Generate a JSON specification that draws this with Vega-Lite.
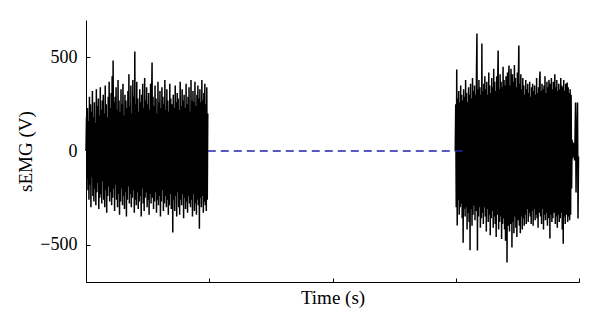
{
"$schema": "https://vega.github.io/schema/vega-lite/v6.json",
"width": 493, "height": 262,
"autosize": {"type": "none"},
"padding": {"left": 86, "top": 20, "right": 21, "bottom": 47},
"config": {"view": {"stroke": null}, "font": "Liberation Serif",
 "axis": {"grid": false, "domainColor": "black", "tickColor": "black", "labelColor": "black", "titleColor": "black", "domainWidth": 1, "tickWidth": 1, "labelFontSize": 18, "titleFontSize": 19, "titleFontWeight": "normal", "labelFont": "Liberation Serif", "titleFont": "Liberation Serif"}},
"datasets": {
"emg": [
{"b":1,"t":0,"v":0},{"b":1,"t":1,"v":180},{"b":1,"t":2,"v":-150},{"b":1,"t":3,"v":230},{"b":1,"t":4,"v":-210},{"b":1,"t":5,"v":160},{"b":1,"t":6,"v":-260},{"b":1,"t":7,"v":290},{"b":1,"t":8,"v":-180},{"b":1,"t":9,"v":250},
{"b":1,"t":10,"v":-300},{"b":1,"t":11,"v":210},{"b":1,"t":12,"v":-140},{"b":1,"t":13,"v":320},{"b":1,"t":14,"v":-240},{"b":1,"t":15,"v":180},{"b":1,"t":16,"v":-270},{"b":1,"t":17,"v":260},{"b":1,"t":18,"v":-200},{"b":1,"t":19,"v":150},
{"b":1,"t":20,"v":-290},{"b":1,"t":21,"v":330},{"b":1,"t":22,"v":-220},{"b":1,"t":23,"v":240},{"b":1,"t":24,"v":-170},{"b":1,"t":25,"v":280},{"b":1,"t":26,"v":-310},{"b":1,"t":27,"v":190},{"b":1,"t":28,"v":-250},{"b":1,"t":29,"v":340},
{"b":1,"t":30,"v":-230},{"b":1,"t":31,"v":220},{"b":1,"t":32,"v":-280},{"b":1,"t":33,"v":270},{"b":1,"t":34,"v":-160},{"b":1,"t":35,"v":300},{"b":1,"t":36,"v":-260},{"b":1,"t":37,"v":200},{"b":1,"t":38,"v":-300},{"b":1,"t":39,"v":350},
{"b":1,"t":40,"v":-210},{"b":1,"t":41,"v":250},{"b":1,"t":42,"v":-330},{"b":1,"t":43,"v":180},{"b":1,"t":44,"v":-240},{"b":1,"t":45,"v":290},{"b":1,"t":46,"v":-190},{"b":1,"t":47,"v":370},{"b":1,"t":48,"v":-270},{"b":1,"t":49,"v":230},
{"b":1,"t":50,"v":-220},{"b":1,"t":51,"v":310},{"b":1,"t":52,"v":-290},{"b":1,"t":53,"v":400},{"b":1,"t":54,"v":-250},{"b":1,"t":55,"v":484},{"b":1,"t":56,"v":-200},{"b":1,"t":57,"v":260},{"b":1,"t":58,"v":-320},{"b":1,"t":59,"v":290},
{"b":1,"t":60,"v":-180},{"b":1,"t":61,"v":340},{"b":1,"t":62,"v":-260},{"b":1,"t":63,"v":220},{"b":1,"t":64,"v":-300},{"b":1,"t":65,"v":380},{"b":1,"t":66,"v":-230},{"b":1,"t":67,"v":270},{"b":1,"t":68,"v":-340},{"b":1,"t":69,"v":210},
{"b":1,"t":70,"v":-270},{"b":1,"t":71,"v":330},{"b":1,"t":72,"v":-200},{"b":1,"t":73,"v":250},{"b":1,"t":74,"v":-290},{"b":1,"t":75,"v":360},{"b":1,"t":76,"v":-240},{"b":1,"t":77,"v":190},{"b":1,"t":78,"v":-310},{"b":1,"t":79,"v":300},
{"b":1,"t":80,"v":-220},{"b":1,"t":81,"v":270},{"b":1,"t":82,"v":-350},{"b":1,"t":83,"v":230},{"b":1,"t":84,"v":-260},{"b":1,"t":85,"v":320},{"b":1,"t":86,"v":-190},{"b":1,"t":87,"v":410},{"b":1,"t":88,"v":-280},{"b":1,"t":89,"v":240},
{"b":1,"t":90,"v":-230},{"b":1,"t":91,"v":350},{"b":1,"t":92,"v":-300},{"b":1,"t":93,"v":200},{"b":1,"t":94,"v":-250},{"b":1,"t":95,"v":380},{"b":1,"t":96,"v":-210},{"b":1,"t":97,"v":290},{"b":1,"t":98,"v":-330},{"b":1,"t":99,"v":532},
{"b":1,"t":100,"v":-260},{"b":1,"t":101,"v":250},{"b":1,"t":102,"v":-290},{"b":1,"t":103,"v":370},{"b":1,"t":104,"v":-220},{"b":1,"t":105,"v":280},{"b":1,"t":106,"v":-310},{"b":1,"t":107,"v":210},{"b":1,"t":108,"v":-270},{"b":1,"t":109,"v":330},
{"b":1,"t":110,"v":-240},{"b":1,"t":111,"v":260},{"b":1,"t":112,"v":-350},{"b":1,"t":113,"v":300},{"b":1,"t":114,"v":-200},{"b":1,"t":115,"v":360},{"b":1,"t":116,"v":-280},{"b":1,"t":117,"v":230},{"b":1,"t":118,"v":-320},{"b":1,"t":119,"v":390},
{"b":1,"t":120,"v":-250},{"b":1,"t":121,"v":270},{"b":1,"t":122,"v":-220},{"b":1,"t":123,"v":340},{"b":1,"t":124,"v":-300},{"b":1,"t":125,"v":250},{"b":1,"t":126,"v":-260},{"b":1,"t":127,"v":310},{"b":1,"t":128,"v":-340},{"b":1,"t":129,"v":220},
{"b":1,"t":130,"v":-230},{"b":1,"t":131,"v":360},{"b":1,"t":132,"v":-280},{"b":1,"t":133,"v":270},{"b":1,"t":134,"v":473},{"b":1,"t":135,"v":-250},{"b":1,"t":136,"v":290},{"b":1,"t":137,"v":-310},{"b":1,"t":138,"v":240},{"b":1,"t":139,"v":-270},
{"b":1,"t":140,"v":350},{"b":1,"t":141,"v":-220},{"b":1,"t":142,"v":280},{"b":1,"t":143,"v":-330},{"b":1,"t":144,"v":200},{"b":1,"t":145,"v":-260},{"b":1,"t":146,"v":370},{"b":1,"t":147,"v":-290},{"b":1,"t":148,"v":260},{"b":1,"t":149,"v":-240},
{"b":1,"t":150,"v":320},{"b":1,"t":151,"v":-350},{"b":1,"t":152,"v":230},{"b":1,"t":153,"v":-270},{"b":1,"t":154,"v":340},{"b":1,"t":155,"v":-210},{"b":1,"t":156,"v":290},{"b":1,"t":157,"v":-320},{"b":1,"t":158,"v":250},{"b":1,"t":159,"v":-280},
{"b":1,"t":160,"v":380},{"b":1,"t":161,"v":-240},{"b":1,"t":162,"v":220},{"b":1,"t":163,"v":-300},{"b":1,"t":164,"v":330},{"b":1,"t":165,"v":-260},{"b":1,"t":166,"v":270},{"b":1,"t":167,"v":-340},{"b":1,"t":168,"v":210},{"b":1,"t":169,"v":-290},
{"b":1,"t":170,"v":360},{"b":1,"t":171,"v":-230},{"b":1,"t":172,"v":280},{"b":1,"t":173,"v":-310},{"b":1,"t":174,"v":240},{"b":1,"t":175,"v":250},{"b":1,"t":176,"v":-435},{"b":1,"t":177,"v":300},{"b":1,"t":178,"v":-260},{"b":1,"t":179,"v":230},
{"b":1,"t":180,"v":-320},{"b":1,"t":181,"v":350},{"b":1,"t":182,"v":-240},{"b":1,"t":183,"v":260},{"b":1,"t":184,"v":-350},{"b":1,"t":185,"v":310},{"b":1,"t":186,"v":-220},{"b":1,"t":187,"v":280},{"b":1,"t":188,"v":-300},{"b":1,"t":189,"v":220},
{"b":1,"t":190,"v":-340},{"b":1,"t":191,"v":370},{"b":1,"t":192,"v":-260},{"b":1,"t":193,"v":240},{"b":1,"t":194,"v":-290},{"b":1,"t":195,"v":330},{"b":1,"t":196,"v":-230},{"b":1,"t":197,"v":270},{"b":1,"t":198,"v":-360},{"b":1,"t":199,"v":300},
{"b":1,"t":200,"v":-250},{"b":1,"t":201,"v":230},{"b":1,"t":202,"v":-310},{"b":1,"t":203,"v":360},{"b":1,"t":204,"v":-270},{"b":1,"t":205,"v":250},{"b":1,"t":206,"v":-330},{"b":1,"t":207,"v":290},{"b":1,"t":208,"v":-240},{"b":1,"t":209,"v":340},
{"b":1,"t":210,"v":-280},{"b":1,"t":211,"v":210},{"b":1,"t":212,"v":-300},{"b":1,"t":213,"v":380},{"b":1,"t":214,"v":-260},{"b":1,"t":215,"v":270},{"b":1,"t":216,"v":-350},{"b":1,"t":217,"v":320},{"b":1,"t":218,"v":-230},{"b":1,"t":219,"v":260},
{"b":1,"t":220,"v":-320},{"b":1,"t":221,"v":370},{"b":1,"t":222,"v":-280},{"b":1,"t":223,"v":240},{"b":1,"t":224,"v":-340},{"b":1,"t":225,"v":300},{"b":1,"t":226,"v":-260},{"b":1,"t":227,"v":350},{"b":1,"t":228,"v":-290},{"b":1,"t":229,"v":280},
{"b":1,"t":230,"v":-415},{"b":1,"t":231,"v":330},{"b":1,"t":232,"v":-250},{"b":1,"t":233,"v":260},{"b":1,"t":234,"v":-300},{"b":1,"t":235,"v":380},{"b":1,"t":236,"v":-240},{"b":1,"t":237,"v":270},{"b":1,"t":238,"v":-330},{"b":1,"t":239,"v":310},
{"b":1,"t":240,"v":-270},{"b":1,"t":241,"v":360},{"b":1,"t":242,"v":-290},{"b":1,"t":243,"v":250},{"b":1,"t":244,"v":-320},{"b":1,"t":245,"v":340},{"b":1,"t":246,"v":-260},{"b":1,"t":247,"v":200},
{"b":2,"t":749,"v":0},{"b":2,"t":750,"v":250},{"b":2,"t":751,"v":-300},{"b":2,"t":752,"v":435},{"b":2,"t":753,"v":-398},{"b":2,"t":754,"v":280},{"b":2,"t":755,"v":-260},{"b":2,"t":756,"v":320},{"b":2,"t":757,"v":-340},{"b":2,"t":758,"v":260},{"b":2,"t":759,"v":-300},
{"b":2,"t":760,"v":350},{"b":2,"t":761,"v":-280},{"b":2,"t":762,"v":300},{"b":2,"t":763,"v":-360},{"b":2,"t":764,"v":270},{"b":2,"t":765,"v":-490},{"b":2,"t":766,"v":330},{"b":2,"t":767,"v":-310},{"b":2,"t":768,"v":290},{"b":2,"t":769,"v":-350},
{"b":2,"t":770,"v":380},{"b":2,"t":771,"v":-300},{"b":2,"t":772,"v":310},{"b":2,"t":773,"v":-420},{"b":2,"t":774,"v":260},{"b":2,"t":775,"v":-330},{"b":2,"t":776,"v":340},{"b":2,"t":777,"v":-380},{"b":2,"t":778,"v":300},{"b":2,"t":779,"v":-530},
{"b":2,"t":780,"v":360},{"b":2,"t":781,"v":-310},{"b":2,"t":782,"v":280},{"b":2,"t":783,"v":-400},{"b":2,"t":784,"v":390},{"b":2,"t":785,"v":-340},{"b":2,"t":786,"v":320},{"b":2,"t":787,"v":-290},{"b":2,"t":788,"v":350},{"b":2,"t":789,"v":-370},
{"b":2,"t":790,"v":300},{"b":2,"t":791,"v":-320},{"b":2,"t":792,"v":410},{"b":2,"t":793,"v":628},{"b":2,"t":794,"v":-532},{"b":2,"t":795,"v":330},{"b":2,"t":796,"v":-350},{"b":2,"t":797,"v":380},{"b":2,"t":798,"v":-300},{"b":2,"t":799,"v":340},
{"b":2,"t":800,"v":-410},{"b":2,"t":801,"v":300},{"b":2,"t":802,"v":-360},{"b":2,"t":803,"v":575},{"b":2,"t":804,"v":-330},{"b":2,"t":805,"v":320},{"b":2,"t":806,"v":-390},{"b":2,"t":807,"v":360},{"b":2,"t":808,"v":-300},{"b":2,"t":809,"v":400},
{"b":2,"t":810,"v":-350},{"b":2,"t":811,"v":330},{"b":2,"t":812,"v":-430},{"b":2,"t":813,"v":370},{"b":2,"t":814,"v":-310},{"b":2,"t":815,"v":300},{"b":2,"t":816,"v":-380},{"b":2,"t":817,"v":420},{"b":2,"t":818,"v":-340},{"b":2,"t":819,"v":350},
{"b":2,"t":820,"v":-450},{"b":2,"t":821,"v":310},{"b":2,"t":822,"v":-360},{"b":2,"t":823,"v":390},{"b":2,"t":824,"v":-320},{"b":2,"t":825,"v":340},{"b":2,"t":826,"v":-410},{"b":2,"t":827,"v":440},{"b":2,"t":828,"v":-350},{"b":2,"t":829,"v":370},
{"b":2,"t":830,"v":-390},{"b":2,"t":831,"v":320},{"b":2,"t":832,"v":-460},{"b":2,"t":833,"v":400},{"b":2,"t":834,"v":-340},{"b":2,"t":835,"v":360},{"b":2,"t":836,"v":537},{"b":2,"t":837,"v":-420},{"b":2,"t":838,"v":330},{"b":2,"t":839,"v":-380},
{"b":2,"t":840,"v":410},{"b":2,"t":841,"v":-350},{"b":2,"t":842,"v":370},{"b":2,"t":843,"v":-470},{"b":2,"t":844,"v":340},{"b":2,"t":845,"v":-390},{"b":2,"t":846,"v":450},{"b":2,"t":847,"v":-360},{"b":2,"t":848,"v":380},{"b":2,"t":849,"v":-420},
{"b":2,"t":850,"v":350},{"b":2,"t":851,"v":-480},{"b":2,"t":852,"v":400},{"b":2,"t":853,"v":360},{"b":2,"t":854,"v":-596},{"b":2,"t":855,"v":420},{"b":2,"t":856,"v":-400},{"b":2,"t":857,"v":380},{"b":2,"t":858,"v":457},{"b":2,"t":859,"v":-430},
{"b":2,"t":860,"v":350},{"b":2,"t":861,"v":-390},{"b":2,"t":862,"v":440},{"b":2,"t":863,"v":330},{"b":2,"t":864,"v":-516},{"b":2,"t":865,"v":410},{"b":2,"t":866,"v":-380},{"b":2,"t":867,"v":370},{"b":2,"t":868,"v":-440},{"b":2,"t":869,"v":460},
{"b":2,"t":870,"v":-350},{"b":2,"t":871,"v":390},{"b":2,"t":872,"v":-410},{"b":2,"t":873,"v":340},{"b":2,"t":874,"v":-460},{"b":2,"t":875,"v":420},{"b":2,"t":876,"v":-370},{"b":2,"t":877,"v":380},{"b":2,"t":878,"v":564},{"b":2,"t":879,"v":-400},
{"b":2,"t":880,"v":360},{"b":2,"t":881,"v":-440},{"b":2,"t":882,"v":410},{"b":2,"t":883,"v":-350},{"b":2,"t":884,"v":330},{"b":2,"t":885,"v":-420},{"b":2,"t":886,"v":390},{"b":2,"t":887,"v":-360},{"b":2,"t":888,"v":350},{"b":2,"t":889,"v":-400},
{"b":2,"t":890,"v":300},{"b":2,"t":891,"v":-340},{"b":2,"t":892,"v":380},{"b":2,"t":893,"v":-390},{"b":2,"t":894,"v":330},{"b":2,"t":895,"v":-310},{"b":2,"t":896,"v":360},{"b":2,"t":897,"v":-380},{"b":2,"t":898,"v":310},{"b":2,"t":899,"v":-330},
{"b":2,"t":900,"v":370},{"b":2,"t":901,"v":-350},{"b":2,"t":902,"v":290},{"b":2,"t":903,"v":-390},{"b":2,"t":904,"v":340},{"b":2,"t":905,"v":-320},{"b":2,"t":906,"v":360},{"b":2,"t":907,"v":-400},{"b":2,"t":908,"v":320},{"b":2,"t":909,"v":-310},
{"b":2,"t":910,"v":350},{"b":2,"t":911,"v":-370},{"b":2,"t":912,"v":300},{"b":2,"t":913,"v":-340},{"b":2,"t":914,"v":390},{"b":2,"t":915,"v":-360},{"b":2,"t":916,"v":310},{"b":2,"t":917,"v":-410},{"b":2,"t":918,"v":340},{"b":2,"t":919,"v":-330},
{"b":2,"t":920,"v":380},{"b":2,"t":921,"v":425},{"b":2,"t":922,"v":-350},{"b":2,"t":923,"v":320},{"b":2,"t":924,"v":-390},{"b":2,"t":925,"v":360},{"b":2,"t":926,"v":-310},{"b":2,"t":927,"v":330},{"b":2,"t":928,"v":-420},{"b":2,"t":929,"v":350},
{"b":2,"t":930,"v":-340},{"b":2,"t":931,"v":400},{"b":2,"t":932,"v":-370},{"b":2,"t":933,"v":310},{"b":2,"t":934,"v":-330},{"b":2,"t":935,"v":370},{"b":2,"t":936,"v":-400},{"b":2,"t":937,"v":340},{"b":2,"t":938,"v":-360},{"b":2,"t":939,"v":380},
{"b":2,"t":940,"v":320},{"b":2,"t":941,"v":-468},{"b":2,"t":942,"v":360},{"b":2,"t":943,"v":-340},{"b":2,"t":944,"v":390},{"b":2,"t":945,"v":-380},{"b":2,"t":946,"v":330},{"b":2,"t":947,"v":-360},{"b":2,"t":948,"v":370},{"b":2,"t":949,"v":-330},
{"b":2,"t":950,"v":310},{"b":2,"t":951,"v":410},{"b":2,"t":952,"v":-390},{"b":2,"t":953,"v":340},{"b":2,"t":954,"v":-350},{"b":2,"t":955,"v":380},{"b":2,"t":956,"v":-410},{"b":2,"t":957,"v":320},{"b":2,"t":958,"v":-340},{"b":2,"t":959,"v":360},
{"b":2,"t":960,"v":-380},{"b":2,"t":961,"v":330},{"b":2,"t":962,"v":-360},{"b":2,"t":963,"v":390},{"b":2,"t":964,"v":-330},{"b":2,"t":965,"v":350},{"b":2,"t":966,"v":-420},{"b":2,"t":967,"v":340},{"b":2,"t":968,"v":-495},{"b":2,"t":969,"v":380},
{"b":2,"t":970,"v":-350},{"b":2,"t":971,"v":320},{"b":2,"t":972,"v":-390},{"b":2,"t":973,"v":360},{"b":2,"t":974,"v":-340},{"b":2,"t":975,"v":330},{"b":2,"t":976,"v":366},{"b":2,"t":977,"v":-380},{"b":2,"t":978,"v":340},{"b":2,"t":979,"v":-350},
{"b":2,"t":980,"v":310},{"b":2,"t":981,"v":-370},{"b":2,"t":982,"v":330},{"b":2,"t":983,"v":-340},{"b":2,"t":984,"v":300},{"b":2,"t":985,"v":-200},{"b":2,"t":986,"v":60},{"b":2,"t":987,"v":-40},{"b":2,"t":988,"v":45},{"b":2,"t":989,"v":-30},
{"b":2,"t":990,"v":40},{"b":2,"t":991,"v":-50},{"b":2,"t":992,"v":80},{"b":2,"t":993,"v":259},{"b":2,"t":994,"v":-222},{"b":2,"t":995,"v":40},{"b":2,"t":996,"v":120},{"b":2,"t":997,"v":259},{"b":2,"t":998,"v":-361},{"b":2,"t":999,"v":-30}
],
"dash": [{"t":247,"v":0},{"t":765,"v":0}]
},
"layer": [
{"data": {"name": "emg"},
 "mark": {"type": "line", "color": "black", "strokeWidth": 1.5},
 "encoding": {
  "x": {"field": "t", "type": "quantitative", "scale": {"domain": [0, 1000], "nice": false, "zero": false},
        "axis": {"values": [0, 250, 500, 750, 1000], "labels": false, "tickSize": -4, "title": "Time (s)", "titlePadding": 6, "titleFont": "Liberation Serif", "titleFontSize": 19}},
  "y": {"field": "v", "type": "quantitative", "scale": {"domain": [-700, 700], "nice": false},
        "axis": {"values": [-500, 0, 500], "tickSize": -4, "labelPadding": 13, "labelFont": "Liberation Serif", "labelFontSize": 18, "title": "sEMG (V)", "titleFont": "Liberation Serif", "titleFontSize": 19, "titlePadding": 4}},
  "detail": {"field": "b"}}},
{"data": {"name": "dash"},
 "mark": {"type": "line", "color": "#2323a8", "strokeWidth": 1.4, "strokeDash": [8, 5]},
 "encoding": {
  "x": {"field": "t", "type": "quantitative"},
  "y": {"field": "v", "type": "quantitative"}}}
]
}
